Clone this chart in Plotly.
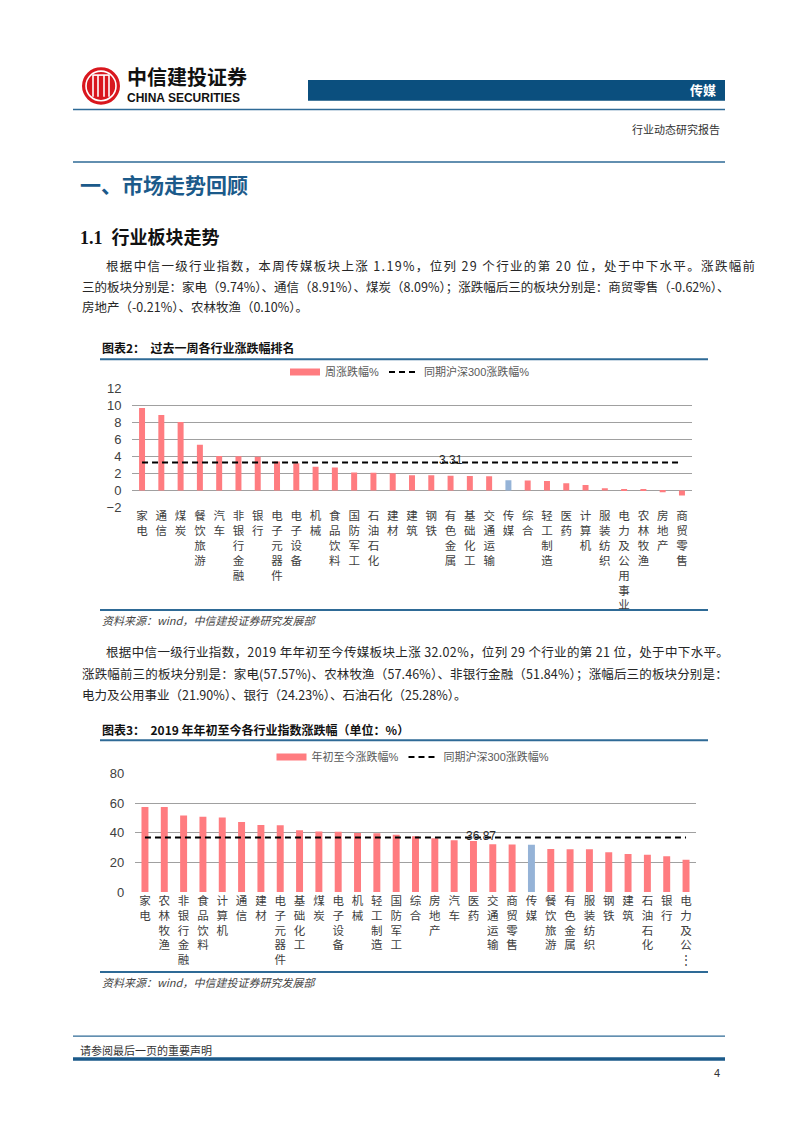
import plotly.graph_objects as go

# ---------------- data ----------------
week_cats = ["家电", "通信", "煤炭", "餐饮旅游", "汽车", "非银行金融", "银行", "电子元器件", "电子设备", "机械",
             "食品饮料", "国防军工", "石油石化", "建材", "建筑", "钢铁", "有色金属", "基础化工", "交通运输", "传媒",
             "综合", "轻工制造", "医药", "计算机", "服装纺织", "电力及公用事业", "农林牧渔", "房地产", "商贸零售"]
week_vals = [9.74, 8.91, 8.09, 5.40, 4.05, 4.02, 3.98, 3.40, 3.20, 2.80,
             2.70, 2.10, 2.08, 2.02, 1.80, 1.78, 1.72, 1.70, 1.68, 1.19,
             1.18, 1.10, 0.85, 0.65, 0.25, 0.15, 0.10, -0.21, -0.62]
week_hs300 = 3.31

ytd_cats = ["家电", "农林牧渔", "非银行金融", "食品饮料", "计算机", "通信", "建材", "电子元器件", "基础化工", "煤炭",
            "电子设备", "机械", "轻工制造", "国防军工", "综合", "房地产", "汽车", "医药", "交通运输", "商贸零售",
            "传媒", "餐饮旅游", "有色金属", "服装纺织", "钢铁", "建筑", "石油石化", "银行", "电力及公用事业"]
ytd_labels = ytd_cats[:-1] + ["电力及公⋮"]
ytd_vals = [57.57, 57.46, 51.84, 51.0, 50.4, 47.3, 45.3, 45.2, 41.8, 40.9,
            40.8, 40.0, 39.8, 38.8, 37.8, 36.4, 35.0, 34.6, 32.3, 32.1,
            32.02, 29.2, 29.0, 28.9, 27.0, 25.8, 25.28, 24.23, 21.90]
ytd_hs300 = 36.87

highlight = "传媒"
# ---------------------------------------

W, H = 802, 1133
def X(px): return px / W
def Y(py): return 1 - py / H

RED = "#FF7C80"
BLUE_BAR = "#95B3D7"
NAVY = "#0B4F7E"
LINE = "#2E6A96"
CJK = "Noto Sans CJK SC"
LAT = "Liberation Sans, Noto Sans CJK SC"

def stack(s):
    return "<br>".join(list(s))

fig = go.Figure()

# chart 1
fig.add_trace(go.Bar(x=week_cats, y=week_vals, width=0.31,
                     marker=dict(color=[BLUE_BAR if c == highlight else RED for c in week_cats], line=dict(width=0)),
                     name="周涨跌幅%", xaxis="x", yaxis="y", showlegend=False))
fig.add_trace(go.Scatter(x=[week_cats[0]], y=[None], mode="lines", line=dict(color=RED, width=7),
                         name="周涨跌幅%", xaxis="x", yaxis="y", legend="legend", hoverinfo="skip"))
fig.add_trace(go.Scatter(x=week_cats, y=[week_hs300] * len(week_cats), mode="lines",
                         line=dict(color="black", width=2, dash="6px,4px"),
                         name="同期沪深300涨跌幅%", xaxis="x", yaxis="y", legend="legend"))
# chart 2
fig.add_trace(go.Bar(x=ytd_cats, y=ytd_vals, width=0.36,
                     marker=dict(color=[BLUE_BAR if c == highlight else RED for c in ytd_cats], line=dict(width=0)),
                     name="年初至今涨跌幅%", xaxis="x2", yaxis="y2", showlegend=False))
fig.add_trace(go.Scatter(x=[ytd_cats[0]], y=[None], mode="lines", line=dict(color=RED, width=7),
                         name="年初至今涨跌幅%", xaxis="x2", yaxis="y2", legend="legend2", hoverinfo="skip"))
fig.add_trace(go.Scatter(x=ytd_cats, y=[ytd_hs300] * len(ytd_cats), mode="lines",
                         line=dict(color="black", width=2, dash="6px,4px"),
                         name="同期沪深300涨跌幅%", xaxis="x2", yaxis="y2", legend="legend2"))

axfont = dict(family=LAT, size=13, color="#404040")
catfont = dict(family=CJK, size=11.5, color="#404040")

fig.update_layout(
    width=W, height=H, margin=dict(l=0, r=0, t=0, b=0), autosize=False,
    paper_bgcolor="white", plot_bgcolor="white",
    showlegend=True,
    xaxis=dict(domain=[X(132.4), X(691.6)], anchor="y", type="category",
               tickvals=week_cats, ticktext=[stack(c) for c in week_cats],
               tickfont=catfont, tickangle=0, showgrid=False, showline=False, ticks="", zeroline=False),
    yaxis=dict(domain=[Y(507), Y(387)], anchor="x", range=[-2, 12], dtick=2,
               showgrid=True, gridcolor="#a0a0a0", gridwidth=1, zeroline=False, showline=False,
               tickfont=axfont, ticks="", ticklabelstandoff=10),
    xaxis2=dict(domain=[X(135.3), X(695.7)], anchor="y2", type="category",
                tickvals=ytd_cats, ticktext=[stack(c) for c in ytd_labels],
                tickfont=catfont, tickangle=0, showgrid=False, showline=False, ticks="", zeroline=False),
    yaxis2=dict(domain=[Y(897), Y(777)], anchor="x2", range=[0, 80], dtick=20,
                showgrid=True, gridcolor="#a0a0a0", gridwidth=1, zeroline=False, showline=False,
                tickfont=axfont, ticks="", ticklabelstandoff=10),
    legend=dict(orientation="h", x=X(410), xanchor="center", y=Y(370), yanchor="middle",
                font=dict(family=LAT, size=11, color="#595959"), bgcolor="rgba(0,0,0,0)", itemwidth=30),
    legend2=dict(orientation="h", x=X(413), xanchor="center", y=Y(760), yanchor="middle",
                 font=dict(family=LAT, size=11, color="#595959"), bgcolor="rgba(0,0,0,0)", itemwidth=30),
)

ann = []
def A(x, y, text, size=13, color="#262626", anchor="left", family=CJK, yanchor="middle", ls=None):
    if ls:
        text = '<span style="letter-spacing:%.2fpx">%s</span>' % (ls, text)
    ann.append(dict(x=X(x), y=Y(y), xref="paper", yref="paper", text=text, showarrow=False,
                    xanchor=anchor, yanchor=yanchor, font=dict(family=family, size=size, color=color)))

# value labels for the reference lines
ann.append(dict(x=16, y=week_hs300, xref="x", yref="y", text="3.31", showarrow=False, yshift=2,
                font=dict(family=LAT, size=12, color="#262626")))
ann.append(dict(x=17.4, y=ytd_hs300, xref="x2", yref="y2", text="36.87", showarrow=False, yshift=2,
                font=dict(family=LAT, size=12, color="#262626")))

# header
A(125, 70, "<b>中信建投证券</b>", size=20, color="#111111")
A(125, 92, "<b>CHINA SECURITIES</b>", size=12, color="#111111", family="Liberation Sans")
A(718, 84, "<b>传媒</b>", size=13, color="white", anchor="right")
A(722, 124, "行业动态研究报告", size=11, color="#333333", anchor="right")
A(78, 179, "<b>一、市场走势回顾</b>", size=21, color="#1B5A8A")
A(78, 234, "<b>1.1  行业板块走势</b>", size=18, color="#111111", family="Liberation Serif, Noto Sans CJK SC")

A(104, 262, "根据中信一级行业指数，本周传媒板块上涨 1.19%，位列 29 个行业的第 20 位，处于中下水平。涨跌幅前", size=12.5, ls=1.35)
A(80, 283, "三的板块分别是：家电（9.74%）、通信（8.91%）、煤炭（8.09%）；涨跌幅后三的板块分别是：商贸零售（-0.62%）、", size=12.5)
A(80, 304, "房地产（-0.21%）、农林牧渔（0.10%）。", size=12.5)

A(100, 345, "<b>图表2：  过去一周各行业涨跌幅排名</b>", size=12, color="#111111")
A(100, 621, "<i>资料来源：wind，中信建投证券研究发展部</i>", size=11, color="#444444")

A(104, 653, "根据中信一级行业指数，2019 年年初至今传媒板块上涨 32.02%，位列 29 个行业的第 21 位，处于中下水平。", size=12.5, ls=0.35)
A(80, 675, "涨跌幅前三的板块分别是：家电(57.57%)、农林牧渔（57.46%）、非银行金融（51.84%）；涨幅后三的板块分别是：", size=12.5, ls=0.15)
A(80, 697, "电力及公用事业（21.90%）、银行（24.23%）、石油石化（25.28%）。", size=12.5)

A(100, 732, "<b>图表3：  2019 年年初至今各行业指数涨跌幅（单位：%）</b>", size=12, color="#111111")
A(100, 988, "<i>资料来源：wind，中信建投证券研究发展部</i>", size=11, color="#444444")

A(78, 1057, "请参阅最后一页的重要声明", size=11, color="#333333")
A(722, 1080, "4", size=11, color="#333333", anchor="right", family="Liberation Sans")

fig.update_layout(annotations=ann)

shapes = []
def L(x0, y0, x1, y1, color=LINE, width=1.5):
    shapes.append(dict(type="line", xref="paper", yref="paper", x0=X(x0), y0=Y(y0), x1=X(x1), y1=Y(y1),
                       line=dict(color=color, width=width)))

# header bar
shapes.append(dict(type="rect", xref="paper", yref="paper", x0=X(308), x1=X(725), y0=Y(95), y1=Y(74),
                   fillcolor=NAVY, line=dict(width=0), layer="below"))
# logo
cx, cy = 101, 80
def circ(r, fill, lc, lw):
    shapes.append(dict(type="circle", xref="paper", yref="paper", x0=X(cx - r), x1=X(cx + r),
                       y0=Y(cy + r), y1=Y(cy - r), fillcolor=fill, line=dict(color=lc, width=lw)))
circ(19, "#D9171E", "#D9171E", 0)
circ(15, "rgba(0,0,0,0)", "white", 1.6)
for dx in (-8, -3, 3, 8):
    L(cx + dx, cy - 11, cx + dx, cy + 11, color="white", width=1.6)
L(cx - 8, cy - 11, cx + 8, cy - 11, color="white", width=1.6)

L(73, 104, 725, 104, width=1.5)
L(73, 157, 725, 157, width=1.5)
L(100, 357, 708, 357, width=2)
L(100, 611, 708, 611, width=2)
L(100, 743, 708, 743, width=2)
L(100, 978, 708, 978, width=2)
L(73, 1043, 725, 1043, width=1.2)
L(73, 1066, 725, 1066, color="#1B5A8A", width=3.5)

fig.update_layout(shapes=shapes)

fig.write_html("out.html")
